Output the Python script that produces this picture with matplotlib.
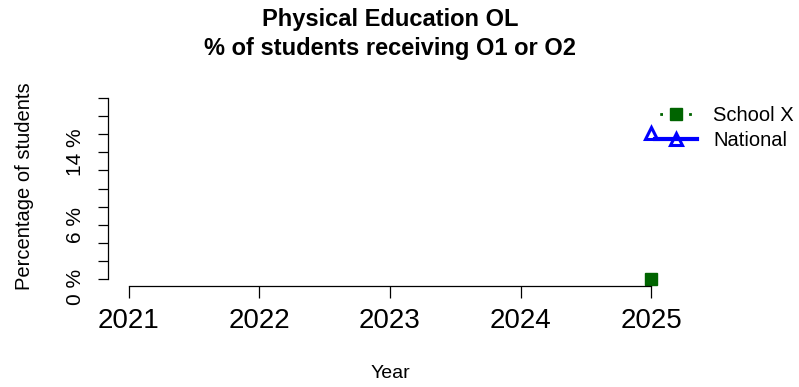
import numpy as np
import matplotlib
matplotlib.use("Agg")
import matplotlib.pyplot as plt
from matplotlib.transforms import ScaledTranslation

plt.rcParams["font.family"] = ["Liberation Sans", "DejaVu Sans"]

# Data (only 2025 has values)
years = [2021, 2022, 2023, 2024, 2025]
school_x = [np.nan, np.nan, np.nan, np.nan, 0.0]
national = [np.nan, np.nan, np.nan, np.nan, 16.1]
y_ticks = list(range(0, 21, 2))
y_tick_labels = ["0 %", "", "", "6 %", "", "", "", "14 %", "", "", ""]
title_text = "Physical Education OL\n% of students receiving O1 or O2"

W, H = 799, 387
fig = plt.figure(figsize=(W / 100, H / 100), dpi=100)
ax = fig.add_axes([108 / W, 101 / H, 564 / W, 195 / H])

ax.plot(years, school_x, color="#006400", linestyle=(3.5, (1, 4.2)), lw=2,
        marker="s", markersize=9, label="School X")
ax.plot(years, national, color="#0000ff", linestyle="-", lw=3,
        marker="^", markersize=8.5, markerfacecolor="none",
        markeredgewidth=2.2, label="National")

ax.set_xlim(2020.84, 2025.16)
ax.set_ylim(-0.8, 20.8)

# R-style axes
for side in ["top", "right"]:
    ax.spines[side].set_visible(False)
ax.spines["left"].set_bounds(0, 20)
ax.spines["bottom"].set_bounds(2021, 2025)
for side in ["left", "bottom"]:
    ax.spines[side].set_linewidth(0.9)

ax.set_xticks(years)
ax.set_xticklabels([str(y) for y in years])
ax.set_yticks(y_ticks)
ax.set_yticklabels(y_tick_labels, rotation=90, va="center")
ax.tick_params(axis="x", length=8.5, width=0.9, pad=7, labelsize=20)
ax.tick_params(axis="y", length=7.5, width=0.9, pad=9, labelsize=15)

# nudge the "0 %" label down a little like the original
lbl0 = ax.get_yticklabels()[0]
lbl0.set_transform(lbl0.get_transform() + ScaledTranslation(0, -0.08, fig.dpi_scale_trans))

ax.set_ylabel("Percentage of students", fontsize=14.5)
ax.yaxis.set_label_coords(-0.132, 0.51)
ax.set_xlabel("Year", fontsize=14)
ax.xaxis.set_label_coords(0.5, -0.405)

fig.text(390 / W, 1 - 34 / H, title_text, ha="center", va="center",
         fontsize=17, fontweight="bold", linespacing=1.32)

ax.legend(loc="upper left", bbox_to_anchor=(655 / W, 1 - 106 / H),
          bbox_transform=fig.transFigure, frameon=False, fontsize=14.5,
          handlelength=2.1, handletextpad=0.8, labelspacing=0.3,
          borderpad=0, borderaxespad=0, numpoints=1)

fig.savefig("out.png", dpi=100)
